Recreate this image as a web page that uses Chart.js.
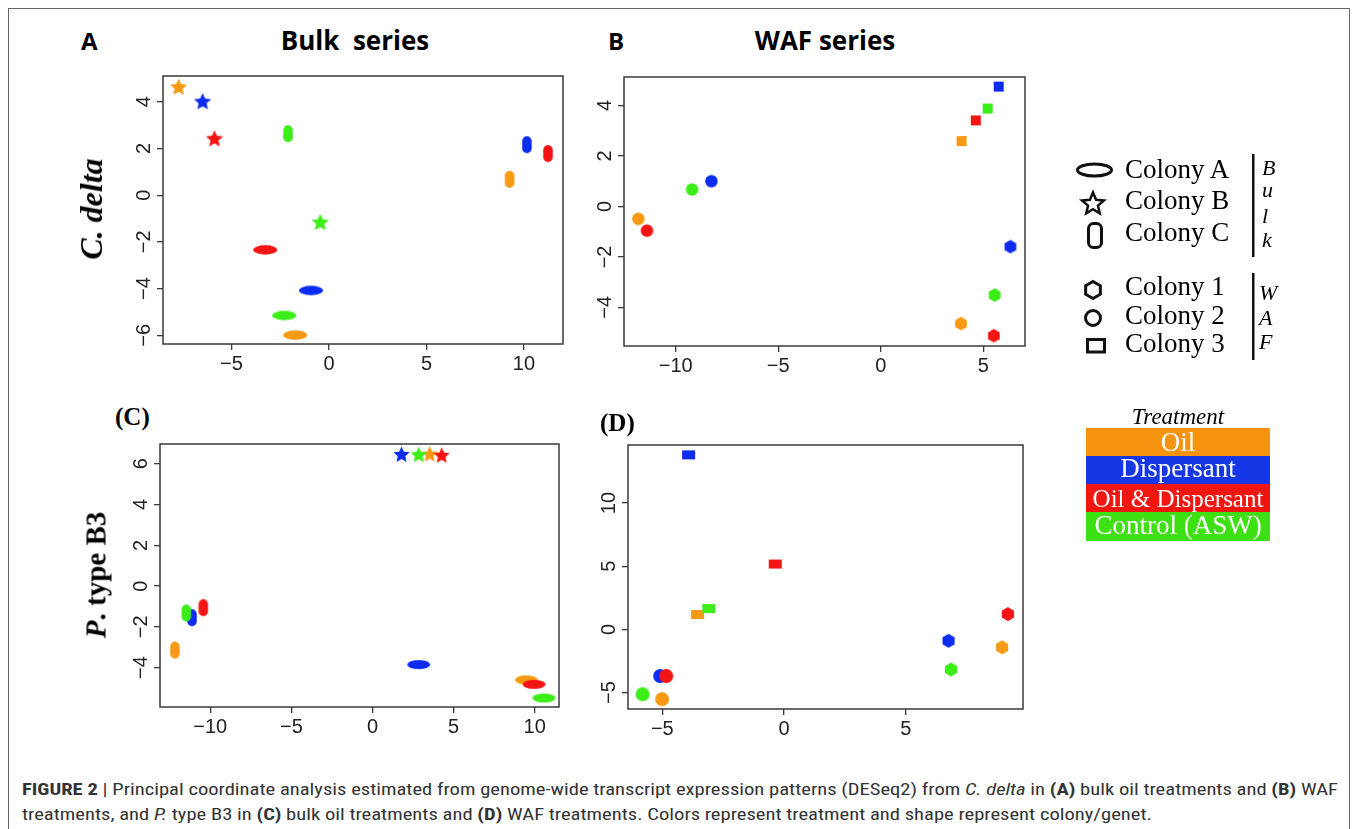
<!DOCTYPE html>
<html><head><meta charset="utf-8">
<script src="https://cdn.jsdelivr.net/npm/chart.js@4/dist/chart.umd.min.js"></script>
<style>
html,body{margin:0;padding:0;background:#fff;}
body{width:1358px;height:829px;position:relative;overflow:hidden;}
.t{position:absolute;white-space:pre;color:#000;line-height:1;}
canvas{position:absolute;}
#frame{position:absolute;left:8px;top:8px;width:1342px;height:900px;border:1.5px solid #666;box-sizing:border-box;}
.tb{position:absolute;left:1086px;width:184px;color:#fff;font-family:"Liberation Serif","DejaVu Serif",serif;text-align:center;}
</style></head><body>
<div id="frame"></div>
<script>
// ---------------- data ----------------
const treatments = ['Oil', 'Dispersant', 'Oil & Dispersant', 'Control (ASW)'];
const bulkColonies = ['Colony A', 'Colony B', 'Colony C'];
const wafColonies = ['Colony 1', 'Colony 2', 'Colony 3'];

// values in treatment order: Oil, Dispersant, Oil & Dispersant, Control (ASW)
// Panel A: C. delta, bulk series
const A_colonyA_x = [-1.73, -0.92, -3.27, -2.29];
const A_colonyA_y = [-5.99, -4.08, -2.34, -5.15];
const A_colonyB_x = [-7.71, -6.48, -5.87, -0.45];
const A_colonyB_y = [4.65, 4.03, 2.44, -1.14];
const A_colonyC_x = [9.26, 10.15, 11.23, -2.10];
const A_colonyC_y = [0.68, 2.16, 1.78, 2.63];
// Panel B: C. delta, WAF series
const B_colony1_x = [3.91, 6.32, 5.51, 5.55];
const B_colony1_y = [-4.64, -1.59, -5.12, -3.51];
const B_colony2_x = [-11.82, -8.26, -11.40, -9.20];
const B_colony2_y = [-0.49, 1.00, -0.96, 0.67];
const B_colony3_x = [3.94, 5.75, 4.63, 5.21];
const B_colony3_y = [2.59, 4.75, 3.41, 3.88];
// Panel C: P. type B3, bulk series
const C_colonyA_x = [9.49, 2.85, 9.96, 10.57];
const C_colonyA_y = [-4.60, -3.85, -4.82, -5.49];
const C_colonyB_x = [3.53, 1.79, 4.27, 2.85];
const C_colonyB_y = [6.50, 6.48, 6.44, 6.47];
const C_colonyC_x = [-12.18, -11.13, -10.43, -11.48];
const C_colonyC_y = [-3.14, -1.55, -1.06, -1.32];
// Panel D: P. type B3, WAF series
const D_colony1_x = [8.96, 6.76, 9.20, 6.86];
const D_colony1_y = [-1.42, -0.90, 1.21, -3.17];
const D_colony2_x = [-5.01, -5.09, -4.84, -5.81];
const D_colony2_y = [-5.52, -3.69, -3.69, -5.13];
const D_colony3_x = [-3.55, -3.92, -0.36, -3.09];
const D_colony3_y = [1.18, 13.81, 5.17, 1.65];

// tick labels
const A_xTicks = [-5, 0, 5, 10];
const A_yTicks = [-6, -4, -2, 0, 2, 4];
const B_xTicks = [-10, -5, 0, 5];
const B_yTicks = [-4, -2, 0, 2, 4];
const C_xTicks = [-10, -5, 0, 5, 10];
const C_yTicks = [-4, -2, 0, 2, 4, 6];
const D_xTicks = [-5, 0, 5];
const D_yTicks = [-5, 0, 5, 10];

// ---------------- styles ----------------
const markerColors = ['#F59A12', '#0B2BF0', '#F51414', '#3CEE17'];
const legendColors = ['#F6940F', '#1637E6', '#EF1710', '#3EE014'];

function marker(shape, color, w, h) {
  const pad = 2;
  const c = document.createElement('canvas');
  c.width = Math.ceil(w + 2 * pad); c.height = Math.ceil(h + 2 * pad);
  const ctx = c.getContext('2d');
  const cx = c.width / 2, cy = c.height / 2;
  ctx.fillStyle = color;
  ctx.beginPath();
  if (shape === 'ellipse') ctx.ellipse(cx, cy, w / 2, h / 2, 0, 0, Math.PI * 2);
  else if (shape === 'pill') ctx.roundRect(cx - w / 2, cy - h / 2, w, h, w / 2);
  else if (shape === 'star') {
    for (let i = 0; i < 10; i++) {
      const r = i % 2 ? w / 2 * 0.47 : w / 2;
      const a = -Math.PI / 2 + i * Math.PI / 5;
      const px = cx + r * Math.cos(a), py = cy + 1 + r * Math.sin(a);
      i ? ctx.lineTo(px, py) : ctx.moveTo(px, py);
    }
    ctx.closePath();
  } else if (shape === 'hexagon') {
    for (let i = 0; i < 6; i++) {
      const a = -Math.PI / 2 + i * Math.PI / 3;
      const px = cx + w / 2 * Math.cos(a), py = cy + w / 2 * Math.sin(a);
      i ? ctx.lineTo(px, py) : ctx.moveTo(px, py);
    }
    ctx.closePath();
  } else if (shape === 'circle') ctx.arc(cx, cy, w / 2, 0, Math.PI * 2);
  else if (shape === 'rect') ctx.rect(cx - w / 2, cy - h / 2, w, h);
  ctx.fill();
  return c;
}

const fmt = v => (v < 0 ? '\u2212' + Math.abs(v) : String(v));

const boxPlugin = {
  id: 'box',
  beforeDatasetsDraw(chart) {
    const { ctx, chartArea: a } = chart;
    ctx.save();
    ctx.strokeStyle = '#3a3a3a';
    ctx.lineWidth = 1.5;
    ctx.strokeRect(a.left, a.top, a.right - a.left, a.bottom - a.top);
    ctx.restore();
  }
};

function panel(box, xr, yr, xt, yt, groups) {
  const [L, T, R, B] = box;
  const W = R - L + 70, H = B - T + 50;
  const cv = document.createElement('canvas');
  cv.width = W; cv.height = H;
  cv.style.left = (L - 60) + 'px'; cv.style.top = (T - 10) + 'px';
  cv.style.width = W + 'px'; cv.style.height = H + 'px';
  document.body.appendChild(cv);
  const tickFont = { family: '"Liberation Sans", Arial, sans-serif', size: 20 };
  const grid = { display: true, drawOnChartArea: false, drawTicks: true, tickLength: 6, color: '#3a3a3a', lineWidth: 1.3 };
  new Chart(cv, {
    type: 'scatter',
    data: {
      datasets: groups.map(g => ({
        label: g.name,
        data: g.xs.map((x, i) => ({ x, y: g.ys[i] })),
        pointStyle: markerColors.map(c => marker(g.shape, c, g.w, g.h)),
        pointRadius: 5, pointHoverRadius: 5, clip: false
      }))
    },
    options: {
      responsive: false, animation: false, events: [],
      layout: { padding: { left: 0, top: 10, right: 10, bottom: 0 } },
      plugins: { legend: { display: false }, tooltip: { enabled: false } },
      scales: {
        x: {
          type: 'linear', min: xr[0], max: xr[1], bounds: 'data',
          afterFit: s => { s.height = 40; },
          afterBuildTicks: s => { s.ticks = xt.map(v => ({ value: v })); },
          ticks: { callback: fmt, font: tickFont, color: '#222', padding: 2, maxRotation: 0, autoSkip: false },
          grid: grid, border: { display: false }
        },
        y: {
          type: 'linear', min: yr[0], max: yr[1], bounds: 'data',
          afterFit: s => { s.width = 60; },
          afterBuildTicks: s => { s.ticks = yt.map(v => ({ value: v })); },
          ticks: { callback: fmt, font: tickFont, color: '#222', padding: 1, minRotation: 90, maxRotation: 90, crossAlign: 'center', autoSkip: false },
          grid: grid, border: { display: false }
        }
      }
    },
    plugins: [boxPlugin]
  });
}

panel([163, 73, 563, 344], [-8.51, 12.0], [-6.37, 5.10], A_xTicks, A_yTicks, [
  { name: bulkColonies[0], shape: 'ellipse', w: 24, h: 9.5, xs: A_colonyA_x, ys: A_colonyA_y },
  { name: bulkColonies[1], shape: 'star', w: 18, h: 17, xs: A_colonyB_x, ys: A_colonyB_y },
  { name: bulkColonies[2], shape: 'pill', w: 9.5, h: 17, xs: A_colonyC_x, ys: A_colonyC_y }
]);
panel([624, 74, 1025, 346], [-12.52, 7.03], [-5.53, 5.13], B_xTicks, B_yTicks, [
  { name: wafColonies[0], shape: 'hexagon', w: 13.5, h: 13.5, xs: B_colony1_x, ys: B_colony1_y },
  { name: wafColonies[1], shape: 'circle', w: 12.5, h: 12.5, xs: B_colony2_x, ys: B_colony2_y },
  { name: wafColonies[2], shape: 'rect', w: 10, h: 10, xs: B_colony3_x, ys: B_colony3_y }
]);
panel([160, 441, 559, 707], [-13.1, 11.5], [-5.93, 6.97], C_xTicks, C_yTicks, [
  { name: bulkColonies[0], shape: 'ellipse', w: 23, h: 9, xs: C_colonyA_x, ys: C_colonyA_y },
  { name: bulkColonies[1], shape: 'star', w: 17, h: 16, xs: C_colonyB_x, ys: C_colonyB_y },
  { name: bulkColonies[2], shape: 'pill', w: 9.5, h: 17, xs: C_colonyC_x, ys: C_colonyC_y }
]);
panel([628, 442, 1023, 709], [-6.41, 9.82], [-6.30, 14.59], D_xTicks, D_yTicks, [
  { name: wafColonies[0], shape: 'hexagon', w: 14, h: 14, xs: D_colony1_x, ys: D_colony1_y },
  { name: wafColonies[1], shape: 'circle', w: 14, h: 14, xs: D_colony2_x, ys: D_colony2_y },
  { name: wafColonies[2], shape: 'rect', w: 13, h: 9, xs: D_colony3_x, ys: D_colony3_y }
]);

// ---------------- annotation text ----------------
const SERIF = '"Liberation Serif","DejaVu Serif",serif';
const SANS = '"Open Sans","Liberation Sans",sans-serif';
function addText(html, x, baseline, size, family, k, extra) {
  const s = document.createElement('div');
  s.className = 't';
  s.innerHTML = html;
  s.style.fontFamily = family;
  s.style.fontSize = size + 'px';
  s.style.left = x + 'px';
  s.style.top = (baseline - k * size) + 'px';
  Object.assign(s.style, extra || {});
  document.body.appendChild(s);
  return s;
}
const kSerif = 0.8375, kSans = 0.888, kLib = 0.8465;

addText('A', 81, 50, 24, SANS, kSans, { fontWeight: '700' });
addText('Bulk  series', 355, 50, 26, SANS, kSans, { fontWeight: '700', transform: 'translateX(-50%)' });
addText('B', 608, 50, 24, SANS, kSans, { fontWeight: '700' });
addText('WAF series', 825, 50, 26, SANS, kSans, { fontWeight: '700', transform: 'translateX(-50%)' });
addText('(C)', 115, 425, 25, SERIF, kSerif, { fontWeight: '700' });
addText('(D)', 600, 431, 25, SERIF, kSerif, { fontWeight: '700' });

function rotText(html, cx, cy, size, extra) {
  const s = document.createElement('div');
  s.className = 't';
  s.innerHTML = html;
  s.style.fontFamily = SERIF;
  s.style.fontSize = size + 'px';
  s.style.fontWeight = '700';
  s.style.left = cx + 'px';
  s.style.top = cy + 'px';
  s.style.transform = 'translate(-50%,-50%) rotate(-90deg)';
  Object.assign(s.style, extra || {});
  document.body.appendChild(s);
}
rotText('C. delta', 91, 209, 32, { fontStyle: 'italic' });
rotText('<i>P</i>. type B3', 96, 575, 29);

// legend (shapes)
const lc = document.createElement('canvas');
lc.width = 200; lc.height = 230;
lc.style.left = '1060px'; lc.style.top = '140px';
document.body.appendChild(lc);
(function () {
  const ctx = lc.getContext('2d');
  ctx.translate(-1060, -140);
  ctx.strokeStyle = '#111';
  ctx.lineWidth = 3;
  ctx.beginPath(); ctx.ellipse(1094.5, 170, 17, 6, 0, 0, Math.PI * 2); ctx.stroke();
  ctx.lineWidth = 2.5;
  ctx.beginPath();
  for (let i = 0; i < 10; i++) {
    const r = i % 2 ? 5.2 : 11.5, a = -Math.PI / 2 + i * Math.PI / 5;
    const px = 1093 + r * Math.cos(a), py = 204 + r * Math.sin(a);
    i ? ctx.lineTo(px, py) : ctx.moveTo(px, py);
  }
  ctx.closePath(); ctx.stroke();
  ctx.lineWidth = 3;
  ctx.beginPath(); ctx.roundRect(1088.5, 223.5, 13, 24, 5); ctx.stroke();
  ctx.beginPath();
  for (let i = 0; i < 6; i++) {
    const a = -Math.PI / 2 + i * Math.PI / 3;
    const px = 1093 + 8.5 * Math.cos(a), py = 290 + 8.5 * Math.sin(a);
    i ? ctx.lineTo(px, py) : ctx.moveTo(px, py);
  }
  ctx.closePath(); ctx.stroke();
  ctx.beginPath(); ctx.arc(1093, 318, 7.5, 0, Math.PI * 2); ctx.stroke();
  ctx.beginPath(); ctx.rect(1087.5, 339.5, 17, 12.5); ctx.stroke();
  // bars
  ctx.fillStyle = '#111';
  ctx.fillRect(1252, 154, 2.5, 103);
  ctx.fillRect(1252, 273, 2.5, 87);
})();

const legendLabels = bulkColonies.concat(wafColonies);
const legendBaselines = [179, 210, 242, 296, 325, 353];
legendLabels.forEach((t, i) => addText(t, 1125, legendBaselines[i], 27, SERIF, kSerif));
[['B', 175], ['u', 197], ['l', 223], ['k', 247]].forEach(([t, b]) => addText(t, 1262, b, 22, SERIF, kSerif, { fontStyle: 'italic' }));
[['W', 300], ['A', 325], ['F', 349]].forEach(([t, b]) => addText(t, 1259, b, 22, SERIF, kSerif, { fontStyle: 'italic' }));

// treatment legend
addText('Treatment', 1178, 424, 23, SERIF, kSerif, { fontStyle: 'italic', transform: 'translateX(-50%)' });
const tbTops = [428, 456, 484, 512], tbH = [28, 28, 28, 29], tbSize = [27, 27, 25, 27], tbBase = [452, 478, 507, 535];
treatments.forEach((t, i) => {
  const d = document.createElement('div');
  d.className = 'tb';
  d.style.top = tbTops[i] + 'px';
  d.style.height = tbH[i] + 'px';
  d.style.background = legendColors[i];
  document.body.appendChild(d);
  addText(t.replace('&', '&amp;'), 1178, tbBase[i], tbSize[i], SERIF, kSerif, { color: '#fff', transform: 'translateX(-50%)' });
});

// caption
const CAP = '"Liberation Sans Narrow","Roboto Condensed","Liberation Sans",Arial,sans-serif';
const l1 = addText('<b>FIGURE 2</b> | Principal coordinate analysis estimated from genome-wide transcript expression patterns (DESeq2) from <i>C. delta</i> in <b>(A)</b> bulk oil treatments and <b>(B)</b> WAF', 22, 795, 17, CAP, kLib, { color: '#333', transformOrigin: '0 0' });
const l2 = addText('treatments, and <i>P.</i> type B3 in <b>(C)</b> bulk oil treatments and <b>(D)</b> WAF treatments. Colors represent treatment and shape represent colony/genet.', 22, 820, 17, CAP, kLib, { color: '#333', transformOrigin: '0 0' });
const sc = 1316 / l1.getBoundingClientRect().width;
l1.style.transform = 'scaleX(' + sc + ')';
l2.style.transform = 'scaleX(' + sc + ')';
</script>
</body></html>
